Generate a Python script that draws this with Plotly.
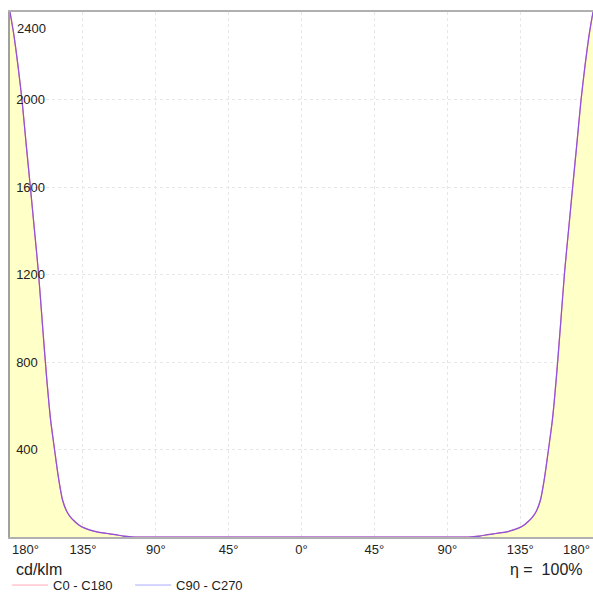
import plotly.graph_objects as go

# gamma angle (deg) and luminous intensity (cd/klm)
gamma = [0, 90, 100, 105, 110, 115, 120, 125, 130, 135, 137.5, 140, 142.5,
         145, 147.5, 150, 152.5, 155, 157.5, 160, 162.5, 165, 167.5, 170,
         172.5, 175, 177.5, 180]
i_c0_c180 = [0, 0, 0, 1, 4, 11, 16, 21, 30, 44, 55, 71, 90,
             118, 168, 268, 400, 540, 740, 975, 1215, 1410, 1605, 1795,
             1990, 2150, 2290, 2400]
i_c90_c270 = list(i_c0_c180)

x_ticks = [-135, -90, -45, 0, 45, 90, 135]
x_tick_text = ["135°", "90°", "45°", "0°", "45°", "90°", "135°"]
y_ticks = [400, 800, 1200, 1600, 2000]
y_tick_text = ["400", "800", "1200", "1600", "2000"]


def mirrored(g, v):
    xs = [-a for a in reversed(g)] + g[1:]
    ys = list(reversed(v)) + v[1:]
    return xs, ys


x1, y1 = mirrored(gamma, i_c0_c180)
x2, y2 = mirrored(gamma, i_c90_c270)

fig = go.Figure()
fig.add_trace(go.Scatter(x=x1, y=y1, mode="lines", fill="tozeroy",
                         fillcolor="rgb(255,255,200)",
                         line=dict(color="rgb(255,90,120)", width=1.2,
                                   shape="spline", smoothing=0.8),
                         showlegend=False, hoverinfo="skip"))
fig.add_trace(go.Scatter(x=x2, y=y2, mode="lines",
                         line=dict(color="rgba(100,80,255,0.75)", width=1.2,
                                   shape="spline", smoothing=0.8),
                         showlegend=False, hoverinfo="skip"))
# legend entries
fig.add_trace(go.Scatter(x=[None], y=[None], mode="lines", name="C0 - C180",
                         line=dict(color="rgb(255,170,180)", width=1)))
fig.add_trace(go.Scatter(x=[None], y=[None], mode="lines", name="C90 - C270",
                         line=dict(color="rgb(170,170,255)", width=1)))

fig.update_xaxes(range=[-180, 180], tickvals=x_ticks, ticktext=x_tick_text,
                 showgrid=True, gridcolor="#e6e6e6", griddash="dot", gridwidth=1,
                 showline=True, linecolor="#b0b0b0", linewidth=1.5, mirror=True,
                 zeroline=False, ticks="", tickfont=dict(size=13, color="#222"),
                 fixedrange=True)
fig.update_yaxes(range=[0, 2400], tickvals=y_ticks, ticktext=y_tick_text,
                 ticklabelposition="inside", ticklabelstandoff=6,
                 showgrid=True, gridcolor="#e6e6e6",
                 griddash="dot", gridwidth=1, showline=True, linecolor="#a0a0a0",
                 linewidth=1.5, zeroline=False, ticks="",
                 tickfont=dict(size=13, color="#222"), fixedrange=True)

ann_font = dict(family="Liberation Sans, Arial, sans-serif", size=13, color="#222")
fig.add_annotation(x=0, xref="paper", y=0, yref="paper", text="180°",
                   showarrow=False, xanchor="left", yanchor="top", xshift=0,
                   yshift=-3, font=ann_font)
fig.add_annotation(x=1, xref="paper", y=0, yref="paper", text="180°",
                   showarrow=False, xanchor="right", yanchor="top", xshift=-1,
                   yshift=-3, font=ann_font)
fig.add_annotation(x=0, xref="paper", y=2400, yref="y", text="2400",
                   showarrow=False, xanchor="left", yanchor="middle", xshift=5,
                   yshift=-16, font=ann_font)
fig.add_annotation(x=0, xref="paper", y=0, yref="paper", text="cd/klm",
                   showarrow=False, xanchor="left", yanchor="top", xshift=4,
                   yshift=-22, font=dict(family="Liberation Sans, Arial, sans-serif",
                                         size=16, color="#222"))
fig.add_annotation(x=1, xref="paper", y=0, yref="paper", text="η =  100%",
                   showarrow=False, xanchor="right", yanchor="top", xshift=-8,
                   yshift=-22, font=dict(family="Liberation Sans, Arial, sans-serif",
                                         size=16, color="#222"))

fig.update_layout(
    width=593, height=592,
    margin=dict(l=10, r=0, t=12, b=55),
    paper_bgcolor="white", plot_bgcolor="white",
    font=dict(family="Liberation Sans, Arial, sans-serif", size=13, color="#222"),
    showlegend=True,
    legend=dict(orientation="h", x=0.012, xref="container", xanchor="left",
                y=0.037, yref="container", yanchor="top",
                font=dict(size=13, color="#222"), itemwidth=36, entrywidth=72,
                bgcolor="rgba(0,0,0,0)", tracegroupgap=0),
)

fig.write_html("out.html", config={"displayModeBar": False},
               post_script="document.body.style.margin='0';"
                           "document.body.style.overflow='hidden';")
